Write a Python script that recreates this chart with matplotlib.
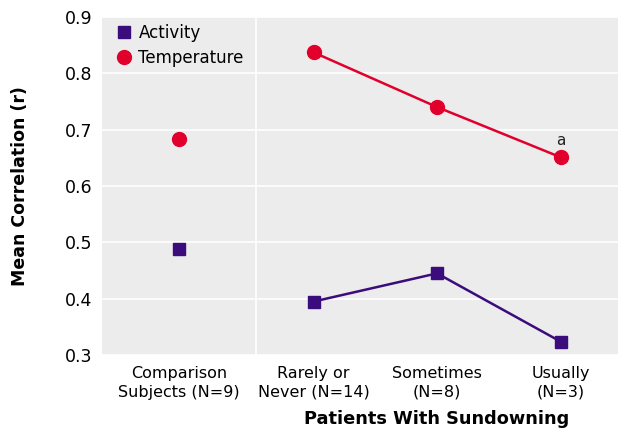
import matplotlib
matplotlib.use("Agg")
import matplotlib.pyplot as plt
from matplotlib.lines import Line2D

# ---------------------------
# DATA
# ---------------------------
categories = ["Comparison\nSubjects (N=9)", "Rarely or\nNever (N=14)", "Sometimes\n(N=8)", "Usually\n(N=3)"]
x_pos = [0, 1.09, 2.09, 3.09]
activity = [0.488, 0.395, 0.445, 0.324]
temperature = [0.684, 0.837, 0.740, 0.651]
y_ticks = [0.3, 0.4, 0.5, 0.6, 0.7, 0.8, 0.9]

ACT_COLOR = "#3a0c7c"
TEMP_COLOR = "#e0002b"
BG = "#ececec"

plt.rcParams["font.family"] = ["DejaVu Sans"]

fig = plt.figure(figsize=(6.18, 4.32), dpi=100)
ax = fig.add_axes([0.165, 0.178, 0.835, 0.783])
ax.set_facecolor(BG)

# gridlines + separator
for yt in y_ticks:
    ax.axhline(yt, color="white", lw=1.2, zorder=1)
ax.axvline(0.623, color="white", lw=1.2, zorder=1)

# comparison subjects (no line)
ax.plot(x_pos[0], activity[0], "s", color=ACT_COLOR, ms=9, zorder=3)
ax.plot(x_pos[0], temperature[0], "o", color=TEMP_COLOR, ms=10, zorder=3)

# patients
ax.plot(x_pos[1:], activity[1:], "-s", color=ACT_COLOR, ms=9, lw=1.8, zorder=3)
ax.plot(x_pos[1:], temperature[1:], "-o", color=TEMP_COLOR, ms=10, lw=1.8, zorder=3)

ax.text(x_pos[3], temperature[3] + 0.016, "a", ha="center", va="bottom", fontsize=11, color="#222222")

ax.set_xlim(-0.623, 3.555)
ax.set_ylim(0.3, 0.9)
ax.set_yticks(y_ticks)
ax.set_yticklabels([f"{v:.1f}" for v in y_ticks], fontsize=12.5)
ax.set_xticks(x_pos)
ax.set_xticklabels(categories, fontsize=11.5, linespacing=1.3)
ax.tick_params(length=0, pad=8)
ax.tick_params(axis="y", pad=7)
for s in ax.spines.values():
    s.set_visible(False)

ax.set_ylabel("Mean Correlation (r)", fontsize=12.5, fontweight="bold", labelpad=26)
fig.text(0.706, 0.01, "Patients With Sundowning", ha="center", va="bottom",
         fontsize=12.8, fontweight="bold")

legend_elements = [
    Line2D([0], [0], marker="s", ls="none", color=ACT_COLOR, ms=9, label="Activity"),
    Line2D([0], [0], marker="o", ls="none", color=TEMP_COLOR, ms=10, label="Temperature"),
]
ax.legend(handles=legend_elements, loc="upper left", bbox_to_anchor=(0.006, 1.0),
          frameon=False, fontsize=12, handletextpad=0.1, borderaxespad=0.0,
          labelspacing=0.45, handlelength=1.5)

fig.savefig("out.png", dpi=100)
